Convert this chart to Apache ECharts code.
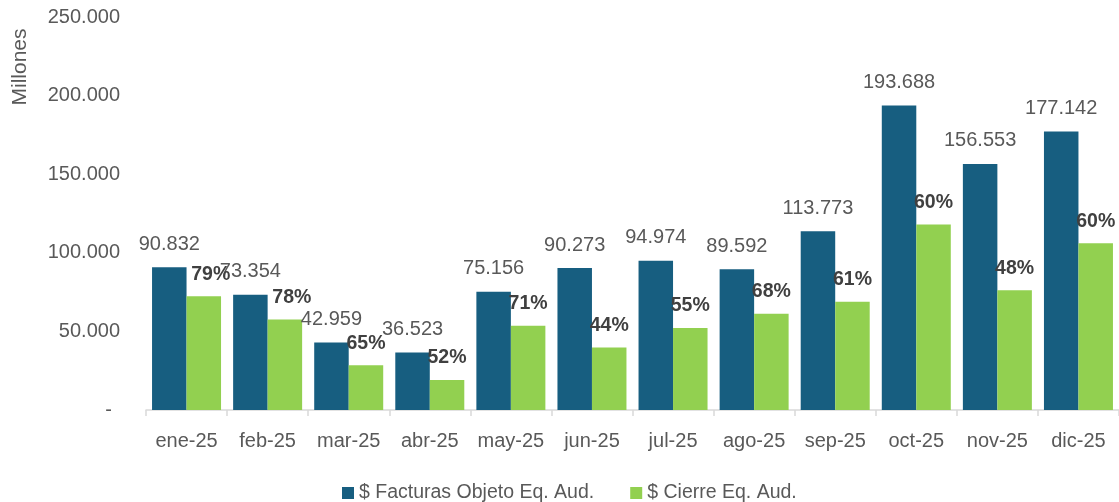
<!DOCTYPE html>
<html>
<head>
<meta charset="utf-8">
<script src="https://cdn.jsdelivr.net/npm/echarts@6/dist/echarts.min.js"></script>
<style>
  html, body { margin: 0; padding: 0; background: #ffffff; }
  #chart { width: 1119px; height: 502px; }
</style>
</head>
<body>
<div id="chart"></div>
<script>
// Months shown on the category axis
const meses = ['ene-25', 'feb-25', 'mar-25', 'abr-25', 'may-25', 'jun-25',
               'jul-25', 'ago-25', 'sep-25', 'oct-25', 'nov-25', 'dic-25'];

// $ Facturas Objeto Eq. Aud. (millones)
const facturas = [90832, 73354, 42959, 36523, 75156, 90273,
                  94974, 89592, 113773, 193688, 156553, 177142];

// $ Cierre Eq. Aud. (millones)
const cierre = [72400, 57600, 28400, 19100, 53600, 39800,
                52100, 61200, 68800, 118000, 76200, 106000];

// Closing share shown above each green bar (%)
const cierrePct = [79, 78, 65, 52, 71, 44, 55, 68, 61, 60, 48, 60];

// Y axis ticks
const yTicks = [0, 50000, 100000, 150000, 200000, 250000];

const FONT = '"Liberation Sans", Arial, sans-serif';
const GREY = '#595959';

function miles(v) {
  return String(Math.round(v)).replace(/\B(?=(\d{3})+(?!\d))/g, '.');
}

// nudge for the first two percentage labels so they clear the neighbouring value
const pctShiftX = { 0: 7, 1: 7 };

const chart = echarts.init(document.getElementById('chart'), null, { renderer: 'canvas' });

chart.setOption({
  backgroundColor: '#ffffff',
  animation: false,
  textStyle: { fontFamily: FONT },
  grid: { left: 146, right: -6, top: 17, bottom: 92, containLabel: false },
  legend: {
    top: 478,
    left: 337,
    itemWidth: 12,
    itemHeight: 12,
    itemGap: 36,
    icon: 'rect',
    textStyle: { fontFamily: FONT, fontSize: 19.5, color: GREY },
    data: ['$ Facturas Objeto Eq. Aud.', '$ Cierre Eq. Aud.']
  },
  graphic: [{
    type: 'text',
    x: 20,
    y: 67,
    rotation: Math.PI / 2,
    style: {
      text: 'Millones',
      fontFamily: FONT,
      fontSize: 21,
      fill: GREY,
      align: 'center',
      verticalAlign: 'middle'
    }
  }],
  xAxis: {
    type: 'category',
    data: meses,
    boundaryGap: true,
    axisLine: { show: true, lineStyle: { color: '#d9d9d9', width: 1.5 } },
    axisTick: { show: true, length: 6, alignWithLabel: false, lineStyle: { color: '#d9d9d9', width: 1.5 } },
    axisLabel: { interval: 0, fontFamily: FONT, fontSize: 20, color: GREY, margin: 21 },
    splitLine: { show: false }
  },
  yAxis: {
    type: 'value',
    min: yTicks[0],
    max: yTicks[yTicks.length - 1],
    interval: yTicks[1] - yTicks[0],
    axisLine: { show: false },
    axisTick: { show: false },
    splitLine: { show: false },
    axisLabel: {
      margin: 26,
      fontFamily: FONT,
      fontSize: 20,
      color: GREY,
      formatter: v => v === 0 ? '{z|-}' : miles(v),
      rich: { z: { fontFamily: FONT, fontSize: 20, color: GREY, padding: [0, 8, 0, 0] } }
    }
  },
  series: [
    {
      name: '$ Facturas Objeto Eq. Aud.',
      type: 'bar',
      data: facturas,
      barWidth: 34.5,
      barGap: '0%',
      itemStyle: { color: '#175e80' },
      label: {
        show: true,
        position: 'top',
        distance: 13,
        fontFamily: FONT,
        fontSize: 20,
        color: GREY,
        formatter: p => miles(p.value)
      }
    },
    {
      name: '$ Cierre Eq. Aud.',
      type: 'bar',
      data: cierre.map((v, i) => ({
        value: v,
        label: { offset: [pctShiftX[i] || 0, 0] }
      })),
      barWidth: 34.5,
      barGap: '0%',
      itemStyle: { color: '#92d050' },
      label: {
        show: true,
        position: 'top',
        distance: 12,
        fontFamily: FONT,
        fontSize: 19.5,
        fontWeight: 'bold',
        color: '#404040',
        formatter: p => cierrePct[p.dataIndex] + '%'
      }
    }
  ]
});
</script>
</body>
</html>
